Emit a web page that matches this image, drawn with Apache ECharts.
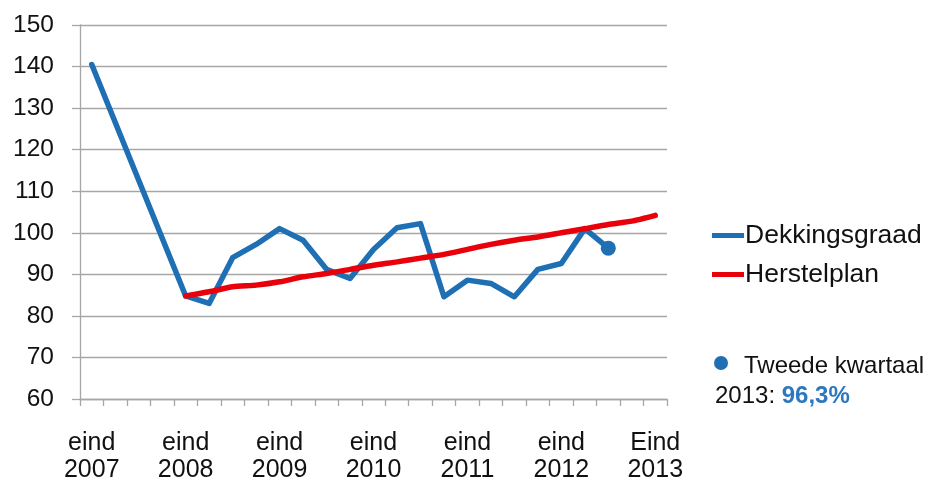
<!DOCTYPE html>
<html>
<head>
<meta charset="utf-8">
<script src="https://cdn.jsdelivr.net/npm/echarts@6/dist/echarts.min.js"></script>
<style>
html,body{margin:0;padding:0;background:#fff;}
#c{width:932px;height:484px;}
</style>
</head>
<body>
<div id="c"></div>
<script>
// Quarters from end 2007 to end 2013
var categories = [
  'eind\n2007','K1 2008','K2 2008','K3 2008',
  'eind\n2008','K1 2009','K2 2009','K3 2009',
  'eind\n2009','K1 2010','K2 2010','K3 2010',
  'eind\n2010','K1 2011','K2 2011','K3 2011',
  'eind\n2011','K1 2012','K2 2012','K3 2012',
  'eind\n2012','K1 2013','K2 2013','K3 2013',
  'Eind\n2013'
];
var dekkingsgraad = [140.5, null, null, null,
  84.8, 83.0, 94.0, 97.2,
  101.0, 98.2, 91.2, 89.0,
  96.0, 101.2, 102.2, 84.6,
  88.6, 87.8, 84.6, 91.2,
  92.6, 101.0, 96.3, null, null];
var herstelplan = [null, null, null, null,
  84.8, 85.8, 87.0, 87.4,
  88.2, 89.4, 90.2, 91.2,
  92.2, 93.0, 93.9, 94.8,
  96.0, 97.2, 98.2, 99.0,
  100.0, 101.0, 102.0, 102.8, 104.2];
var latestIndex = 22;
var latestValue = 96.3;
var latestNoteLine1 = 'Tweede kwartaal';
var latestNoteYear = '2013: ';
var latestNoteValue = '96,3%';
var yTicks = {min: 60, max: 150, step: 10};

var BLUE = '#1f6fb4';
var RED = '#e8000a';
var GRID = '#a6a6a6';
var TXT = '#111111';
var FONT = 'Liberation Sans, Arial, sans-serif';

var chart = echarts.init(document.getElementById('c'));
chart.setOption({
  animation: false,
  backgroundColor: '#fff',
  grid: {left: 80, right: 265, top: 25, bottom: 84, containLabel: false},
  xAxis: {
    type: 'category',
    data: categories,
    boundaryGap: true,
    axisLine: {show: true, lineStyle: {color: GRID, width: 1.3}},
    axisTick: {show: true, interval: 0, length: 7, lineStyle: {color: GRID, width: 1.3}},
    axisLabel: {interval: 3, margin: 31, color: TXT, fontFamily: FONT, fontSize: 25, lineHeight: 27},
    splitLine: {show: false}
  },
  yAxis: {
    type: 'value',
    min: yTicks.min, max: yTicks.max, interval: yTicks.step,
    axisLine: {show: true, lineStyle: {color: GRID, width: 1.3}},
    axisTick: {show: true, length: 8, lineStyle: {color: GRID, width: 1.3}},
    axisLabel: {margin: 26, color: TXT, fontFamily: FONT, fontSize: 24.5},
    splitLine: {show: true, lineStyle: {color: GRID, width: 1.3}}
  },
  legend: {
    orient: 'vertical',
    left: 707, top: 217,
    itemWidth: 32, itemHeight: 5, itemGap: 12,
    icon: 'rect',
    data: ['Dekkingsgraad', 'Herstelplan'],
    textStyle: {fontFamily: FONT, fontSize: 26.5, lineHeight: 26, color: TXT, padding: [0,0,0,-4]}
  },
  series: [
    {
      name: 'Dekkingsgraad', type: 'line', data: dekkingsgraad,
      connectNulls: true, showSymbol: false, symbol: 'none',
      lineStyle: {color: BLUE, width: 5.5, join: 'round', cap: 'round'},
      itemStyle: {color: BLUE}, z: 2
    },
    {
      name: 'Herstelplan', type: 'line', data: herstelplan,
      showSymbol: false, symbol: 'none', smooth: 0.2,
      lineStyle: {color: RED, width: 5.5, cap: 'round'},
      itemStyle: {color: RED}, z: 3
    },
    {
      name: 'Laatste', type: 'scatter',
      data: [[latestIndex, latestValue]],
      symbol: 'circle', symbolSize: 15,
      itemStyle: {color: BLUE, opacity: 1}, z: 4,
      emphasis: {disabled: true}
    }
  ],
  graphic: [
    {type: 'circle', shape: {cx: 721, cy: 363, r: 7}, style: {fill: BLUE}},
    {type: 'text', x: 744, y: 366, style: {text: latestNoteLine1, font: '24px ' + FONT, fill: TXT, verticalAlign: 'middle'}},
    {type: 'text', x: 715, y: 396, style: {
      text: '{a|' + latestNoteYear + '}{b|' + latestNoteValue + '}',
      verticalAlign: 'middle',
      rich: {
        a: {fontSize: 24, fontFamily: FONT, fill: TXT},
        b: {fontSize: 24, fontFamily: FONT, fontWeight: 'bold', fill: '#2e78bd'}
      }
    }}
  ]
});
</script>
</body>
</html>
